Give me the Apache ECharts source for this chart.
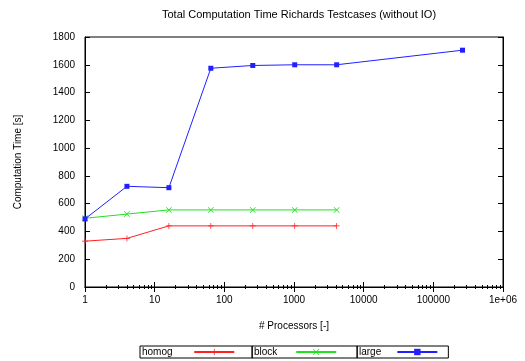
<!DOCTYPE html>
<html>
<head>
<meta charset="utf-8">
<script src="https://cdn.jsdelivr.net/npm/echarts@6/dist/echarts.min.js"></script>
<style>
  html, body { margin: 0; padding: 0; background: #fff; }
  #chart { width: 525px; height: 361px; }
</style>
</head>
<body>
<div id="chart"></div>
<script>
// processor counts
const procs = [1, 4, 16, 64, 256, 1024, 4096];
const procsLarge = [1, 4, 16, 64, 256, 1024, 4096, 262144];
// computation time [s]
const homog = [330, 350, 440, 440, 440, 440, 440];
const block = [495, 525, 555, 555, 555, 555, 555];
const large = [490, 725, 715, 1575, 1595, 1600, 1600, 1705];

const font = "Liberation Sans, Arial, sans-serif";
const plus = "path://M4.4,0H5.6V4.4H10V5.6H5.6V10H4.4V5.6H0V4.4H4.4Z";
const cross = "path://M0.8,0L5,4.2L9.2,0L10,0.8L5.8,5L10,9.2L9.2,10L5,5.8L0.8,10L0,9.2L4.2,5L0,0.8Z";

function pairs(xs, ys) {
  return xs.map((x, i) => [x, ys[i]]);
}

// one boxed legend cell per series, like gnuplot's horizontal key
// (trailing no-break spaces push the line sample to the right)
function keyCell(name, left, spaces, padRight) {
  return {
    left: left,
    bottom: 3,
    align: "right",
    itemWidth: 40,
    itemHeight: 8,
    padding: [1, padRight, 1, 2],
    borderColor: "#000",
    borderWidth: 1,
    data: [name],
    formatter: n => n + "\u00a0".repeat(spaces),
    textStyle: { fontSize: 10, color: "#000", fontFamily: font }
  };
}

const chart = echarts.init(document.getElementById("chart"));
const option = {
  animation: false,
  textStyle: { fontFamily: font, color: "#000" },
  title: {
    text: "Total Computation Time Richards Testcases (without IO)",
    left: 294,
    textAlign: "center",
    top: 4,
    textStyle: { fontSize: 11, fontWeight: "normal", color: "#000", fontFamily: font }
  },
  grid: {
    left: 85,
    right: 22,
    top: 37,
    bottom: 74,
    show: true,
    borderColor: "#000",
    borderWidth: 1
  },
  legend: [
    keyCell("homog", 140, 6, 17),
    keyCell("block", 252, 5, 20),
    keyCell("large", 357, 4, 10)
  ],
  xAxis: [
    {
      type: "log",
      logBase: 10,
      min: 1,
      max: 1000000,
      name: "# Processors [-]",
      nameLocation: "middle",
      nameGap: 34,
      nameTextStyle: { fontSize: 10, color: "#000" },
      axisLine: { lineStyle: { color: "#000" } },
      axisTick: { inside: true, length: 5, lineStyle: { color: "#000" } },
      minorTick: { show: true, splitNumber: 9, length: 2, lineStyle: { color: "#000" } },
      axisLabel: {
        fontSize: 10,
        color: "#000",
        margin: 8,
        formatter: v => (v >= 1000000 ? "1e+06" : String(v))
      },
      splitLine: { show: false }
    },
    {
      type: "log",
      logBase: 10,
      min: 1,
      max: 1000000,
      position: "top",
      axisLine: { lineStyle: { color: "#000" } },
      axisTick: { inside: true, length: 5, lineStyle: { color: "#000" } },
      minorTick: { show: true, splitNumber: 9, length: 2, lineStyle: { color: "#000" } },
      axisLabel: { show: false },
      splitLine: { show: false }
    }
  ],
  yAxis: [
    {
      type: "value",
      min: 0,
      max: 1800,
      interval: 200,
      name: "Computation Time [s]",
      nameLocation: "middle",
      nameGap: 62,
      nameTextStyle: { fontSize: 10, color: "#000" },
      axisLine: { show: true, lineStyle: { color: "#000" } },
      axisTick: { show: true, inside: true, length: 5, lineStyle: { color: "#000" } },
      axisLabel: { fontSize: 10, color: "#000", margin: 10, formatter: v => String(v) },
      splitLine: { show: false }
    },
    {
      type: "value",
      min: 0,
      max: 1800,
      interval: 200,
      position: "right",
      axisLine: { show: true, lineStyle: { color: "#000" } },
      axisTick: { show: true, inside: true, length: 5, lineStyle: { color: "#000" } },
      axisLabel: { show: false },
      splitLine: { show: false }
    }
  ],
  series: [
    {
      name: "homog",
      type: "line",
      data: pairs(procs, homog),
      symbol: plus,
      symbolSize: 6,
      color: "#ff2020",
      lineStyle: { width: 1, color: "#ff2020" },
      itemStyle: { color: "#ff2020" }
    },
    {
      name: "block",
      type: "line",
      data: pairs(procs, block),
      symbol: cross,
      symbolSize: 6,
      color: "#20e020",
      lineStyle: { width: 1, color: "#20e020" },
      itemStyle: { color: "#20e020" }
    },
    {
      name: "large",
      type: "line",
      data: pairs(procsLarge, large),
      symbol: "rect",
      symbolSize: 5,
      color: "#2020ff",
      lineStyle: { width: 1, color: "#2020ff" },
      itemStyle: { color: "#2020ff" }
    }
  ]
};
chart.setOption(option);
</script>
</body>
</html>
